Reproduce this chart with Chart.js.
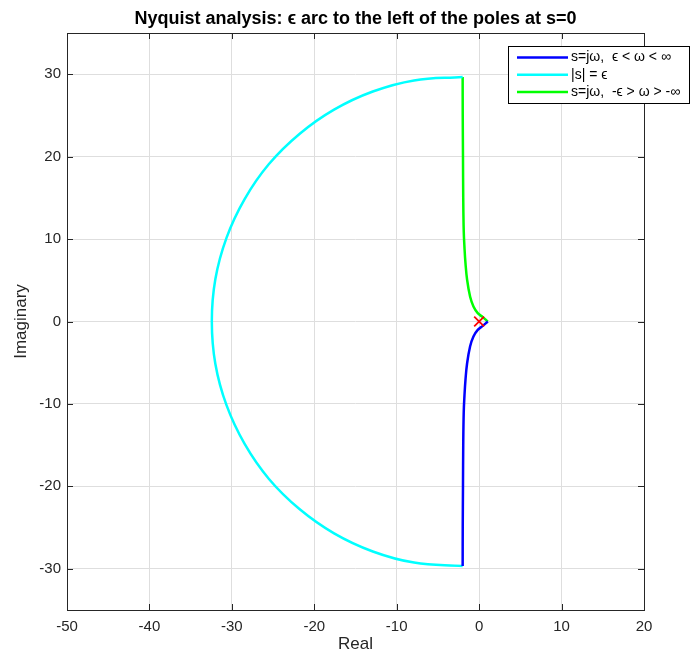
<!DOCTYPE html>
<html>
<head>
<meta charset="utf-8">
<script src="https://cdn.jsdelivr.net/npm/chart.js@4"></script>
<style>
  body { margin: 0; background: #fff; }
  canvas { display: block; }
</style>
</head>
<body>
<canvas id="nyquist" width="691" height="653"></canvas>
<script>
// データ
const xTicks = [-50, -40, -30, -20, -10, 0, 10, 20];
const yTicks = [-30, -20, -10, 0, 10, 20, 30];

// s=jω, ε < ω < ∞
const posRe = [-2.0, -1.99, -1.96, -1.93, -1.87, -1.78, -1.66, -1.46, -1.1, -0.69, -0.17, 0.44, 1.05];
const posIm = [-29.66, -25, -20, -15, -11, -9, -7.1, -5.06, -3.03, -1.82, -1.02, -0.53, 0];

// |s| = ε
const arcRe = [-2.0, -7.9, -12.9, -17.6, -21.8, -25.5, -28.45, -30.65, -32.0, -32.43,
               -32.0, -30.65, -28.45, -25.5, -21.8, -17.6, -12.9, -7.9, -2.0];
const arcIm = [29.66, 29.25, 27.9, 25.7, 22.75, 19.1, 14.85, 10.15, 5.15, 0,
               -5.15, -10.15, -14.85, -19.1, -22.75, -25.7, -27.9, -29.25, -29.66];

// s=jω, -ε > ω > -∞
const negRe = [-2.0, -1.99, -1.96, -1.93, -1.87, -1.78, -1.66, -1.46, -1.1, -0.69, -0.17, 0.44, 1.05];
const negIm = [29.66, 25, 20, 15, 11, 9, 7.1, 5.06, 3.03, 1.82, 1.02, 0.53, 0];

// 極 (s=0)
const poleRe = [0];
const poleIm = [0];

const titleText = "Nyquist analysis: ϵ arc to the left of the poles at s=0";

const toXY = (re, im) => re.map((v, i) => ({ x: v, y: im[i] }));
const FONT = '"Liberation Sans", Arial, Helvetica, sans-serif';
const AXIS_COLOR = "#262626";

// タイトル（プロット領域の中央に配置）
const centerTitle = {
    id: "centerTitle",
    afterDraw(chart) {
        const { ctx, chartArea: a } = chart;
        ctx.save();
        ctx.font = "bold 18px " + FONT;
        ctx.fillStyle = "#000";
        ctx.textAlign = "center";
        ctx.textBaseline = "middle";
        ctx.fillText(titleText, (a.left + a.right) / 2, 19);
        ctx.restore();
    },
};

// 枠と内向きの目盛り
const framePlugin = {
    id: "frame",
    afterDraw(chart) {
        const { ctx, chartArea: a, scales } = chart;
        const tl = 6;
        ctx.save();
        ctx.strokeStyle = AXIS_COLOR;
        ctx.lineWidth = 1;
        ctx.beginPath();
        scales.x.ticks.forEach(t => {
            const px = Math.round(scales.x.getPixelForValue(t.value)) + 0.5;
            ctx.moveTo(px, a.bottom); ctx.lineTo(px, a.bottom - tl);
            ctx.moveTo(px, a.top); ctx.lineTo(px, a.top + tl);
        });
        scales.y.ticks.forEach(t => {
            const py = Math.round(scales.y.getPixelForValue(t.value)) + 0.5;
            ctx.moveTo(a.left, py); ctx.lineTo(a.left + tl, py);
            ctx.moveTo(a.right, py); ctx.lineTo(a.right - tl, py);
        });
        ctx.stroke();
        ctx.strokeRect(Math.round(a.left) + 0.5, Math.round(a.top) + 0.5,
            Math.round(a.right - a.left), Math.round(a.bottom - a.top));
        ctx.restore();
    },
};

// 凡例（右上の箱）
const boxLegend = {
    id: "boxLegend",
    afterDraw(chart) {
        const ctx = chart.ctx;
        const items = chart.data.datasets.filter(d => d.inLegend);
        const x0 = 508.5, y0 = 46.5, w = 181, h = 57;
        ctx.save();
        ctx.fillStyle = "#fff";
        ctx.fillRect(x0, y0, w, h);
        ctx.strokeStyle = "#000";
        ctx.lineWidth = 1;
        ctx.strokeRect(x0, y0, w, h);
        ctx.font = "14px " + FONT;
        ctx.textBaseline = "middle";
        items.forEach((d, i) => {
            const y = 57.5 + i * 17.3;
            ctx.strokeStyle = d.borderColor;
            ctx.lineWidth = 2.5;
            ctx.beginPath();
            ctx.moveTo(517, y);
            ctx.lineTo(568, y);
            ctx.stroke();
            ctx.fillStyle = "#000";
            ctx.fillText(d.label, 571, y);
        });
        ctx.restore();
    },
};

const lineSet = (label, data, color) => ({
    label, data, inLegend: true,
    showLine: true, borderColor: color, backgroundColor: color,
    borderWidth: 2.5, pointRadius: 0, tension: 0.4, order: 1,
});

new Chart(document.getElementById("nyquist").getContext("2d"), {
    type: "scatter",
    data: {
        datasets: [
            lineSet("s=jω,  ϵ < ω < ∞", toXY(posRe, posIm), "#0000ff"),
            lineSet("|s| = ϵ", toXY(arcRe, arcIm), "#00ffff"),
            lineSet("s=jω,  -ϵ > ω > -∞", toXY(negRe, negIm), "#00ff00"),
            {
                label: "pole", data: toXY(poleRe, poleIm),
                pointStyle: "crossRot", pointRadius: 7, borderWidth: 1.8,
                borderColor: "#ff0000", backgroundColor: "#ff0000", order: 0,
            },
        ],
    },
    options: {
        responsive: false,
        animation: false,
        layout: { padding: { right: 47, top: 33 } },
        plugins: {
            legend: { display: false },
            tooltip: { enabled: false },
            title: { display: false },
        },
        scales: {
            x: {
                type: "linear", min: -50, max: 20,
                afterFit: s => { s.height = 43; },
                afterBuildTicks: s => { s.ticks = xTicks.map(v => ({ value: v })); },
                ticks: { font: { family: FONT, size: 15 }, color: AXIS_COLOR, padding: 8, maxRotation: 0 },
                grid: { color: "#dedede", drawTicks: false },
                border: { display: false },
                title: { display: true, text: "Real", color: AXIS_COLOR, padding: 0,
                         font: { family: FONT, size: 17, lineHeight: 1 } },
            },
            y: {
                type: "linear", min: -35, max: 35,
                afterFit: s => { s.width = 67; },
                afterBuildTicks: s => { s.ticks = yTicks.map(v => ({ value: v })); },
                ticks: { font: { family: FONT, size: 15 }, color: AXIS_COLOR, padding: 6 },
                grid: { color: "#dedede", drawTicks: false },
                border: { display: false },
                title: { display: true, text: "Imaginary", color: AXIS_COLOR, padding: 12.5,
                         font: { family: FONT, size: 17, lineHeight: 1 } },
            },
        },
    },
    plugins: [framePlugin, boxLegend, centerTitle],
});
</script>
</body>
</html>
